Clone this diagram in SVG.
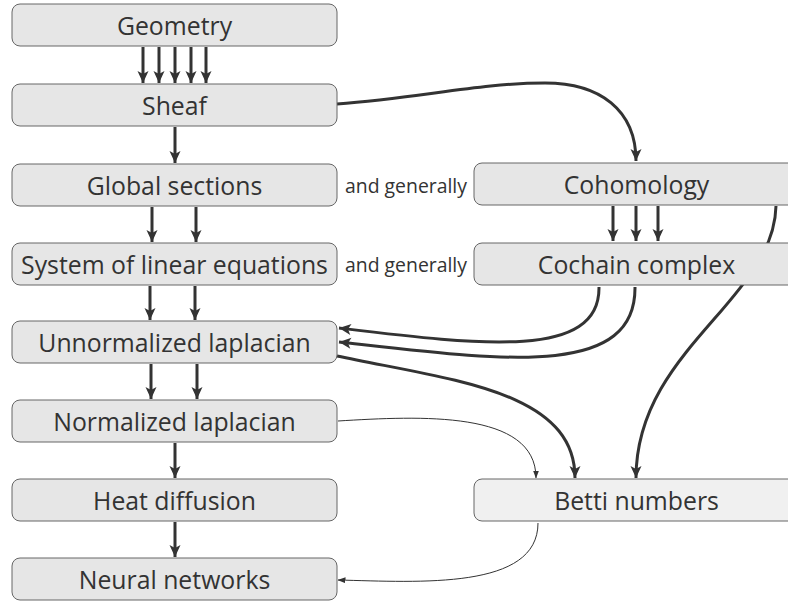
<svg xmlns="http://www.w3.org/2000/svg" width="788" height="603" viewBox="0 0 788 603">
<style>
.box{fill:#e6e6e6;stroke:#666;stroke-width:1}
.light{fill:#f0f0f0}
.lbl{font-family:"Open Sans","DejaVu Sans",sans-serif;font-size:24.8px;fill:#333;text-anchor:middle;dominant-baseline:central}
.side{font-family:"Open Sans","DejaVu Sans",sans-serif;font-size:19.4px;fill:#333;dominant-baseline:central}
.thick{fill:none;stroke:#333;stroke-width:3;marker-end:url(#ah)}
.thin{fill:none;stroke:#333;stroke-width:1;marker-end:url(#ahs)}
</style>
<defs>
<marker id="ah" markerUnits="userSpaceOnUse" markerWidth="14" markerHeight="14" viewBox="0 0 14 14" refX="13" refY="7" orient="auto">
<path d="M1,1.5 L13,7 L1,12.5 L4,7 Z" fill="#333"/>
</marker>
<marker id="ahs" markerUnits="userSpaceOnUse" markerWidth="8" markerHeight="8" viewBox="0 0 8 8" refX="7.5" refY="4" orient="auto">
<path d="M0,1 L8,4 L0,7 Z" fill="#333"/>
</marker>
</defs>
<g id="connectors">
<path class="thick" d="M143,47 V83"/>
<path class="thick" d="M159,47 V83"/>
<path class="thick" d="M175,47 V83"/>
<path class="thick" d="M191,47 V83"/>
<path class="thick" d="M206,47 V83"/>
<path class="thick" d="M175,127 V163"/>
<path class="thick" d="M152,207 V242"/>
<path class="thick" d="M196,207 V242"/>
<path class="thick" d="M150,286 V320"/>
<path class="thick" d="M195,286 V320"/>
<path class="thick" d="M151,364 V399"/>
<path class="thick" d="M197,364 V399"/>
<path class="thick" d="M175,443 V478"/>
<path class="thick" d="M175,522 V557"/>
<path class="thick" d="M613,206 V241"/>
<path class="thick" d="M636,206 V241"/>
<path class="thick" d="M658,206 V241"/>
<path class="thick" d="M337,104 C420,98 480,83 545,83 C600,83 636,110 636,161"/>
<path class="thick" d="M599,287 C600,360 480,345 339,328"/>
<path class="thick" d="M635,287 C636,380 500,360 339,342"/>
<path class="thick" d="M337,356 C450,380 575,390 575,478"/>
<path class="thick" d="M776,206 C774,300 636,350 636,478"/>
<path class="thin" d="M338,421 C420,416 536,410 536,478"/>
<path class="thin" d="M538,523 C538,590 420,582 338,580"/>
</g>
<g id="geometry"><rect class="box" x="12" y="4" width="325" height="42" rx="8"/><text class="lbl" x="174.5" y="25">Geometry</text></g>
<g id="sheaf"><rect class="box" x="12" y="84" width="325" height="42" rx="8"/><text class="lbl" x="174.5" y="105">Sheaf</text></g>
<g id="global-sections"><rect class="box" x="12" y="164" width="325" height="42" rx="8"/><text class="lbl" x="174.5" y="185">Global sections</text></g>
<g id="linear-equations"><rect class="box" x="12" y="243" width="325" height="42" rx="8"/><text class="lbl" x="174.5" y="264">System of linear equations</text></g>
<g id="unnormalized"><rect class="box" x="12" y="321" width="325" height="42" rx="8"/><text class="lbl" x="174.5" y="342">Unnormalized laplacian</text></g>
<g id="normalized"><rect class="box" x="12" y="400" width="325" height="42" rx="8"/><text class="lbl" x="174.5" y="421">Normalized laplacian</text></g>
<g id="heat"><rect class="box" x="12" y="479" width="325" height="42" rx="8"/><text class="lbl" x="174.5" y="500">Heat diffusion</text></g>
<g id="neural"><rect class="box" x="12" y="558" width="325" height="42" rx="8"/><text class="lbl" x="174.5" y="579">Neural networks</text></g>
<g id="cohomology"><rect class="box" x="474" y="163" width="325" height="42" rx="8"/><text class="lbl" x="636.5" y="184">Cohomology</text></g>
<g id="cochain"><rect class="box" x="474" y="243" width="325" height="42" rx="8"/><text class="lbl" x="636.5" y="264">Cochain complex</text></g>
<g id="betti"><rect class="box light" x="474" y="479" width="325" height="42" rx="8"/><text class="lbl" x="636.5" y="500">Betti numbers</text></g>
<g id="side-labels">
<text class="side" x="345" y="185">and generally</text>
<text class="side" x="345" y="264">and generally</text>
</g>
</svg>
